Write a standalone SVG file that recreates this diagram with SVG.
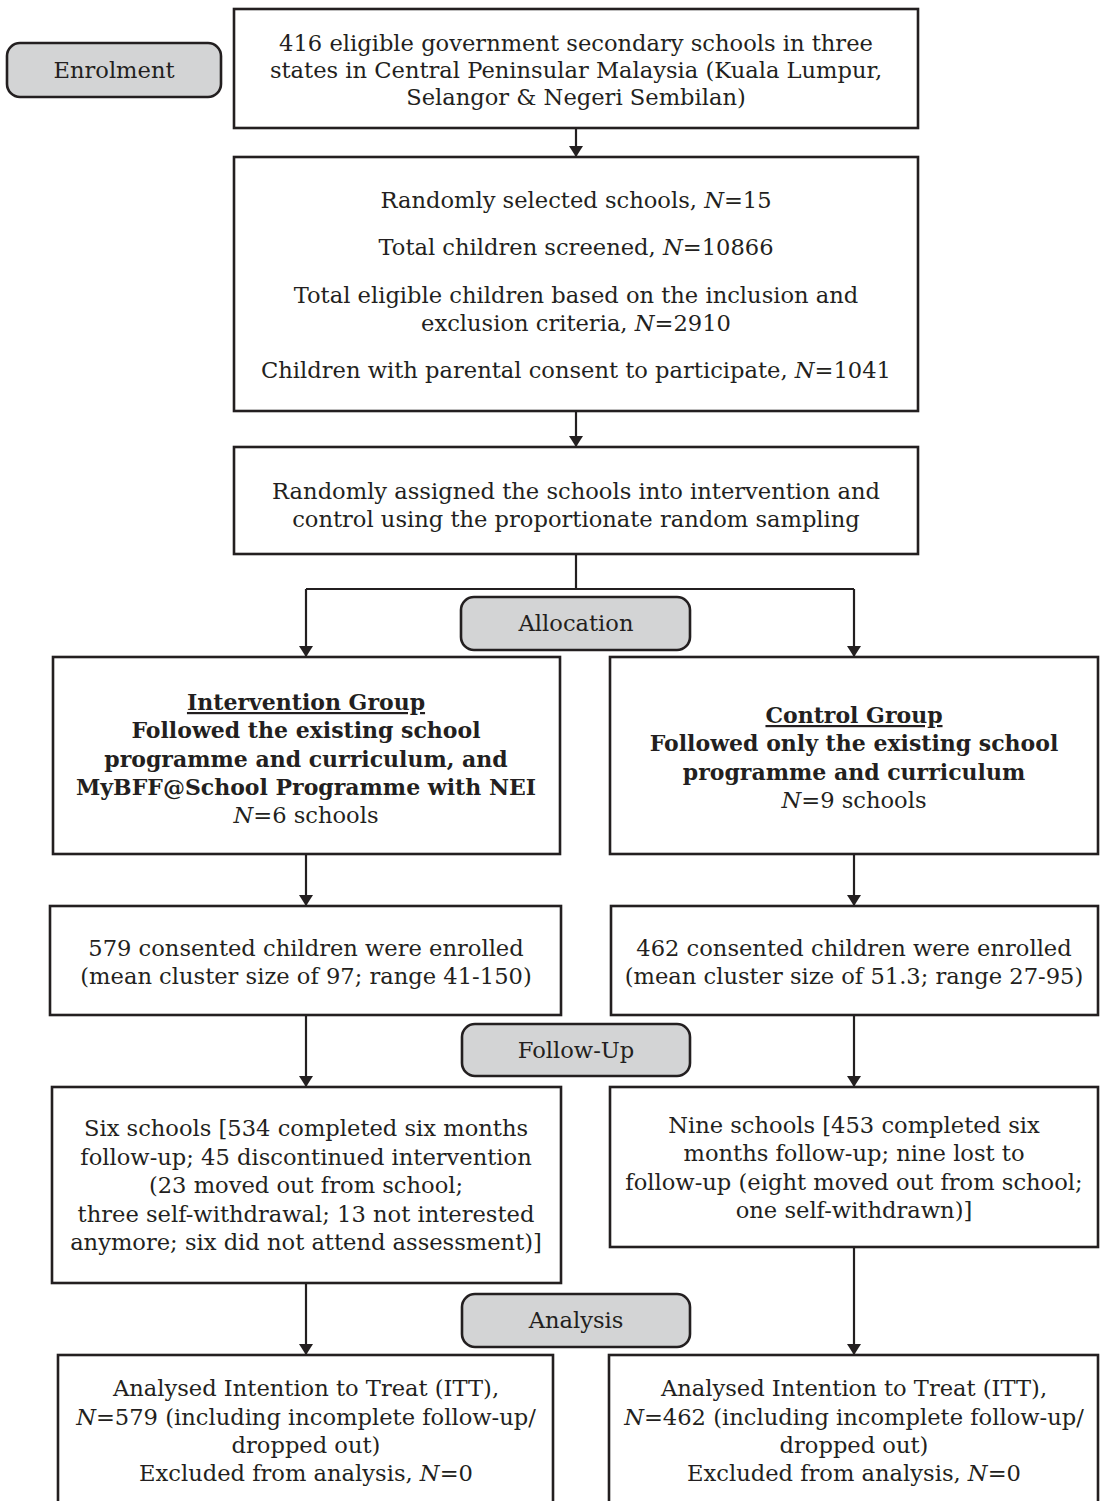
<svg xmlns="http://www.w3.org/2000/svg" width="1101" height="1501" viewBox="0 0 1101 1501">
<style>
.box{fill:#fff;stroke:#231f20;stroke-width:2.6}
.pill{fill:#d3d4d5;stroke:#231f20;stroke-width:2.6}
.t{font-family:"DejaVu Serif","Liberation Serif",serif;font-size:22.6px;fill:#231f20;text-anchor:middle}
.b{font-weight:bold;font-size:22px}
.i{font-style:italic}
.c{fill:none;stroke:#231f20;stroke-width:2.2}
</style>
<defs>
<marker id="ah" viewBox="0 0 11 14" refX="11" refY="7" markerWidth="11" markerHeight="14" markerUnits="userSpaceOnUse" orient="auto">
<path d="M0,0 L11,7 L0,14 z" fill="#231f20"/>
</marker>
</defs>
<rect width="1101" height="1501" fill="#fff"/>
<g id="connectors">
<path class="c" d="M576,128 V157" marker-end="url(#ah)"/>
<path class="c" d="M576,411 V447" marker-end="url(#ah)"/>
<path class="c" d="M576,554 V589"/>
<path class="c" d="M306,589 H854"/>
<path class="c" d="M306,589 V657" marker-end="url(#ah)"/>
<path class="c" d="M854,589 V657" marker-end="url(#ah)"/>
<path class="c" d="M306,854 V906" marker-end="url(#ah)"/>
<path class="c" d="M854,854 V906" marker-end="url(#ah)"/>
<path class="c" d="M306,1015 V1087" marker-end="url(#ah)"/>
<path class="c" d="M854,1015 V1087" marker-end="url(#ah)"/>
<path class="c" d="M306,1283 V1355" marker-end="url(#ah)"/>
<path class="c" d="M854,1247 V1355" marker-end="url(#ah)"/>
</g>
<g id="enrolment">
<rect class="pill" x="7" y="43" width="214" height="54" rx="13"/>
<text class="t" x="114" y="78">Enrolment</text>
</g>
<g id="eligible">
<rect class="box" x="234" y="9" width="684" height="119"/>
<text class="t" x="576" y="51">416 eligible government secondary schools in three</text>
<text class="t" x="576" y="78">states in Central Peninsular Malaysia (Kuala Lumpur,</text>
<text class="t" x="576" y="105">Selangor &amp; Negeri Sembilan)</text>
</g>
<g id="screening">
<rect class="box" x="234" y="157" width="684" height="254"/>
<text class="t" x="576" y="208">Randomly selected schools, <tspan class="i">N</tspan>=15</text>
<text class="t" x="576" y="255">Total children screened, <tspan class="i">N</tspan>=10866</text>
<text class="t" x="576" y="303">Total eligible children based on the inclusion and</text>
<text class="t" x="576" y="331">exclusion criteria, <tspan class="i">N</tspan>=2910</text>
<text class="t" x="576" y="378">Children with parental consent to participate, <tspan class="i">N</tspan>=1041</text>
</g>
<g id="randomise">
<rect class="box" x="234" y="447" width="684" height="107"/>
<text class="t" x="576" y="499">Randomly assigned the schools into intervention and</text>
<text class="t" x="576" y="527">control using the proportionate random sampling</text>
</g>
<g id="allocation">
<rect class="pill" x="461" y="597" width="229" height="53" rx="13"/>
<text class="t" x="576" y="631">Allocation</text>
</g>
<g id="intervention">
<rect class="box" x="53" y="657" width="507" height="197"/>
<text class="t b" x="306" y="710" text-decoration="underline">Intervention Group</text>
<text class="t b" x="306" y="738">Followed the existing school</text>
<text class="t b" x="306" y="767">programme and curriculum, and</text>
<text class="t b" x="306" y="795">MyBFF@School Programme with NEI</text>
<text class="t" x="306" y="823"><tspan class="i">N</tspan>=6 schools</text>
</g>
<g id="control">
<rect class="box" x="610" y="657" width="488" height="197"/>
<text class="t b" x="854" y="723" text-decoration="underline">Control Group</text>
<text class="t b" x="854" y="751">Followed only the existing school</text>
<text class="t b" x="854" y="780">programme and curriculum</text>
<text class="t" x="854" y="808"><tspan class="i">N</tspan>=9 schools</text>
</g>
<g id="enrolled-int">
<rect class="box" x="50" y="906" width="511" height="109"/>
<text class="t" x="306" y="956">579 consented children were enrolled</text>
<text class="t" x="306" y="984">(mean cluster size of 97; range 41-150)</text>
</g>
<g id="enrolled-ctrl">
<rect class="box" x="611" y="906" width="487" height="109"/>
<text class="t" x="854" y="956">462 consented children were enrolled</text>
<text class="t" x="854" y="984">(mean cluster size of 51.3; range 27-95)</text>
</g>
<g id="followup">
<rect class="pill" x="462" y="1024" width="228" height="52" rx="13"/>
<text class="t" x="576" y="1058">Follow-Up</text>
</g>
<g id="followup-int">
<rect class="box" x="52" y="1087" width="509" height="196"/>
<text class="t" x="306" y="1136">Six schools [534 completed six months</text>
<text class="t" x="306" y="1165">follow-up; 45 discontinued intervention</text>
<text class="t" x="306" y="1193">(23 moved out from school;</text>
<text class="t" x="306" y="1222">three self-withdrawal; 13 not interested</text>
<text class="t" x="306" y="1250">anymore; six did not attend assessment)]</text>
</g>
<g id="followup-ctrl">
<rect class="box" x="610" y="1087" width="488" height="160"/>
<text class="t" x="854" y="1133">Nine schools [453 completed six</text>
<text class="t" x="854" y="1161">months follow-up; nine lost to</text>
<text class="t" x="854" y="1190">follow-up (eight moved out from school;</text>
<text class="t" x="854" y="1218">one self-withdrawn)]</text>
</g>
<g id="analysis">
<rect class="pill" x="462" y="1294" width="228" height="53" rx="13"/>
<text class="t" x="576" y="1328">Analysis</text>
</g>
<g id="analysed-int">
<rect class="box" x="58" y="1355" width="495" height="160"/>
<text class="t" x="306" y="1396">Analysed Intention to Treat (ITT),</text>
<text class="t" x="306" y="1425"><tspan class="i">N</tspan>=579 (including incomplete follow-up/</text>
<text class="t" x="306" y="1453">dropped out)</text>
<text class="t" x="306" y="1481">Excluded from analysis, <tspan class="i">N</tspan>=0</text>
</g>
<g id="analysed-ctrl">
<rect class="box" x="609" y="1355" width="489" height="160"/>
<text class="t" x="854" y="1396">Analysed Intention to Treat (ITT),</text>
<text class="t" x="854" y="1425"><tspan class="i">N</tspan>=462 (including incomplete follow-up/</text>
<text class="t" x="854" y="1453">dropped out)</text>
<text class="t" x="854" y="1481">Excluded from analysis, <tspan class="i">N</tspan>=0</text>
</g>
</svg>
